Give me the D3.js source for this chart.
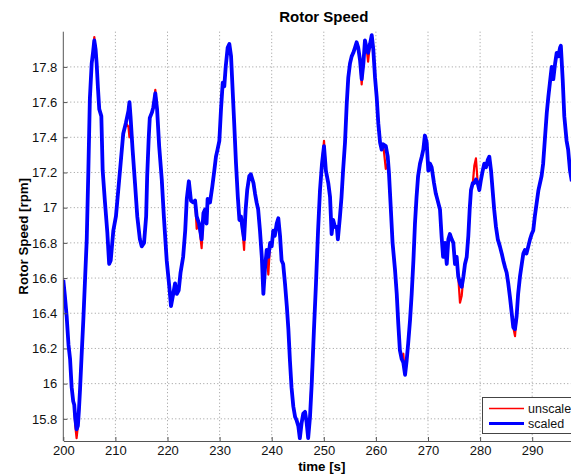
<!DOCTYPE html>
<html>
<head>
<meta charset="utf-8">
<script src="https://cdn.jsdelivr.net/npm/d3@7"></script>
<style>
  html, body { margin: 0; padding: 0; background: #fff; }
  svg { display: block; font-family: "Liberation Sans", Arial, sans-serif; }
</style>
</head>
<body>
<svg id="chart" width="571" height="474"></svg>
<script>
// ---- data ----
const chartTitle = "Rotor Speed";
const xLabel = "time [s]";
const yLabel = "Rotor Speed [rpm]";
const xTicks = [200, 210, 220, 230, 240, 250, 260, 270, 280, 290];
const yTicks = [15.8, 16, 16.2, 16.4, 16.6, 16.8, 17, 17.2, 17.4, 17.6, 17.8];
const seriesNames = ["unscale", "scaled"];

// scaled series: [time s, rotor speed rpm]
const scaled = [
[200.0,16.59],[200.3,16.50],[200.65,16.38],[201.0,16.22],[201.3,16.14],[201.6,15.98],[201.9,15.90],[202.1,15.88],
[202.3,15.80],[202.55,15.74],[202.8,15.76],[203.0,15.85],[203.2,15.96],[203.5,16.15],[203.84,16.36],[204.17,16.59],
[204.5,16.82],[204.8,17.20],[205.1,17.62],[205.45,17.82],[205.7,17.88],[205.95,17.95],[206.2,17.90],[206.4,17.82],
[206.65,17.68],[206.9,17.56],[207.3,17.52],[207.56,17.21],[208.0,17.03],[208.45,16.86],[208.8,16.68],[209.1,16.70],
[209.6,16.87],[210.1,16.95],[210.55,17.10],[211.0,17.25],[211.5,17.42],[212.0,17.48],[212.5,17.55],[212.7,17.60],
[212.9,17.52],[213.3,17.33],[213.76,17.14],[214.2,16.95],[214.7,16.82],[215.05,16.78],[215.5,16.80],[215.9,16.95],
[216.1,17.18],[216.4,17.40],[216.6,17.51],[217.0,17.54],[217.27,17.57],[217.66,17.65],[218.0,17.56],[218.4,17.35],
[218.9,17.16],[219.3,16.95],[219.85,16.70],[220.35,16.55],[220.67,16.44],[221.1,16.51],[221.45,16.57],[221.8,16.51],
[222.15,16.53],[222.5,16.63],[223.0,16.72],[223.4,16.87],[223.7,17.05],[224.1,17.15],[224.5,17.04],[224.95,17.03],
[225.3,17.04],[225.6,16.95],[226.05,16.91],[226.55,16.82],[226.9,16.97],[227.2,16.99],[227.5,16.91],[227.7,17.05],
[228.16,17.03],[228.6,17.12],[228.98,17.21],[229.3,17.29],[229.6,17.33],[229.95,17.38],[230.27,17.56],[230.6,17.71],
[230.9,17.69],[231.17,17.80],[231.55,17.91],[231.87,17.93],[232.2,17.86],[232.5,17.67],[232.8,17.48],[233.15,17.25],
[233.5,17.06],[233.8,16.93],[234.1,16.95],[234.36,16.89],[234.7,16.82],[235.0,16.99],[235.3,17.10],[235.7,17.18],
[236.0,17.19],[236.5,17.14],[236.8,17.08],[237.1,17.03],[237.4,16.99],[237.75,16.87],[238.1,16.72],[238.4,16.51],
[238.7,16.65],[239.04,16.76],[239.35,16.72],[239.7,16.80],[240.0,16.78],[240.3,16.87],[240.6,16.84],[240.96,16.91],
[241.27,16.94],[241.6,16.84],[241.9,16.70],[242.2,16.68],[242.55,16.57],[242.9,16.44],[243.2,16.31],[243.5,16.13],
[243.8,15.98],[244.15,15.87],[244.5,15.81],[244.8,15.79],[245.1,15.76],[245.4,15.69],[245.76,15.78],[246.06,15.83],
[246.4,15.84],[246.7,15.78],[247.0,15.69],[247.35,15.81],[247.7,16.01],[248.1,16.30],[248.5,16.57],[248.9,16.87],
[249.27,17.10],[249.65,17.25],[250.04,17.35],[250.4,17.21],[250.86,17.14],[251.2,17.06],[251.5,16.85],[251.8,16.93],
[252.15,16.89],[252.5,16.89],[252.7,16.82],[253.1,16.95],[253.4,17.06],[253.7,17.21],[254.07,17.37],[254.4,17.59],
[254.7,17.74],[255.03,17.82],[255.35,17.86],[255.66,17.88],[255.99,17.91],[256.3,17.94],[256.6,17.91],[256.95,17.84],
[257.27,17.73],[257.6,17.82],[257.9,17.95],[258.2,17.91],[258.5,17.88],[258.87,17.93],[259.2,17.98],[259.5,17.90],
[259.83,17.74],[260.15,17.63],[260.46,17.48],[260.8,17.37],[261.1,17.33],[261.4,17.36],[261.9,17.35],[262.27,17.29],
[262.5,17.20],[262.8,17.03],[263.2,16.80],[263.66,16.65],[264.0,16.51],[264.3,16.34],[264.6,16.19],[264.95,16.14],
[265.26,16.12],[265.6,16.05],[265.9,16.13],[266.2,16.23],[266.55,16.36],[266.87,16.51],[267.2,16.70],[267.5,16.91],
[267.8,17.06],[268.1,17.18],[268.46,17.25],[268.8,17.29],[269.1,17.33],[269.4,17.41],[269.75,17.37],[270.06,17.21],
[270.4,17.25],[270.7,17.23],[271.15,17.14],[271.5,17.08],[271.86,17.04],[272.3,16.99],[272.6,16.84],[272.9,16.72],
[273.26,16.80],[273.6,16.68],[273.9,16.82],[274.2,16.85],[274.55,16.82],[274.86,16.80],[275.18,16.68],[275.5,16.72],
[275.8,16.61],[276.14,16.57],[276.47,16.55],[276.8,16.61],[277.1,16.68],[277.43,16.72],[277.74,16.84],[278.0,16.99],
[278.25,17.10],[278.6,17.14],[278.9,17.14],[279.2,17.16],[279.54,17.14],[279.85,17.10],[280.17,17.16],[280.5,17.21],
[280.8,17.25],[281.13,17.23],[281.46,17.27],[281.77,17.29],[282.1,17.21],[282.4,17.10],[282.7,16.99],[283.05,16.89],
[283.4,16.82],[283.8,16.78],[284.15,16.74],[284.45,16.70],[284.8,16.66],[285.1,16.63],[285.4,16.57],[285.74,16.49],
[286.07,16.40],[286.37,16.32],[286.7,16.31],[287.0,16.38],[287.3,16.51],[287.66,16.61],[288.0,16.68],[288.3,16.74],
[288.6,16.76],[288.9,16.74],[289.25,16.78],[289.58,16.82],[289.9,16.85],[290.2,16.87],[290.5,16.95],[290.87,17.03],
[291.2,17.10],[291.5,17.14],[291.8,17.18],[292.1,17.25],[292.46,17.40],[292.8,17.54],[293.1,17.63],[293.4,17.71],
[293.74,17.80],[294.05,17.73],[294.4,17.82],[294.7,17.88],[295.0,17.86],[295.35,17.91],[295.5,17.92],[295.85,17.73],
[296.16,17.52],[296.6,17.38],[296.9,17.33],[297.26,17.21],[297.6,17.15]
];

// unscaled series readings where it visibly departs from the scaled one: [time s, rpm]
const unscaledReadings = [
[202.3,15.76],[202.55,15.69],[205.95,17.97],[212.5,17.46],[212.7,17.40],[212.9,17.47],[217.66,17.67],
[220.67,16.46],[225.6,16.88],[226.55,16.77],[234.7,16.76],[239.35,16.62],[247.7,16.06],[250.04,17.38],
[257.27,17.70],[258.5,17.83],[261.9,17.22],[262.27,17.25],[265.26,16.17],[276.14,16.46],[276.47,16.50],
[278.9,17.24],[279.2,17.28],[286.7,16.27],[293.74,17.78]
];

// ---- layout ----
const svg = d3.select("#chart");
const plotLeft = 63.3, plotTop = 31.7, plotBottom = 441, plotW = 521;
const x = d3.scaleLinear().domain([200, 300]).range([plotLeft, plotLeft + plotW]);
const y = d3.scaleLinear().domain([15.674, 18.0]).range([plotBottom, plotTop]);

const overrideMap = new Map(unscaledReadings.map(d => [d[0], d[1]]));
const unscaled = scaled.map(d => [d[0], overrideMap.has(d[0]) ? overrideMap.get(d[0]) : d[1]]);

svg.append("defs").append("clipPath").attr("id", "clip")
  .append("rect").attr("x", plotLeft).attr("y", plotTop).attr("width", plotW).attr("height", plotBottom - plotTop);

// grid
const grid = svg.append("g");
grid.selectAll("line.vg").data(xTicks.slice(1)).join("line")
  .attr("x1", d => x(d)).attr("x2", d => x(d)).attr("y1", plotTop).attr("y2", plotBottom)
  .attr("stroke", "#999").attr("stroke-width", 1).attr("stroke-dasharray", "1,2.5");
grid.selectAll("line.hg").data(yTicks).join("line")
  .attr("x1", plotLeft).attr("x2", plotLeft + plotW).attr("y1", d => y(d)).attr("y2", d => y(d))
  .attr("stroke", "#999").attr("stroke-width", 1).attr("stroke-dasharray", "1,2.5");

// lines
const line = d3.line().x(d => x(d[0])).y(d => y(d[1]));
const plot = svg.append("g").attr("clip-path", "url(#clip)");
plot.append("path").datum(unscaled).attr("d", line)
  .attr("fill", "none").attr("stroke", "#ff0000").attr("stroke-width", 2.2).attr("stroke-linejoin", "round");
plot.append("path").datum(scaled).attr("d", line)
  .attr("fill", "none").attr("stroke", "#0000ff").attr("stroke-width", 3.8).attr("stroke-linejoin", "round");

// axes
const fmt = d => d3.format("")(+d.toFixed(1));
const xAxis = d3.axisBottom(x).tickValues(xTicks).tickSizeInner(-4).tickSizeOuter(0).tickPadding(5).tickFormat(fmt);
const yAxis = d3.axisLeft(y).tickValues(yTicks).tickSizeInner(-4).tickSizeOuter(0).tickPadding(6).tickFormat(fmt);

const gx = svg.append("g").attr("transform", `translate(0,${plotBottom})`).call(xAxis);
const gy = svg.append("g").attr("transform", `translate(${plotLeft},0)`).call(yAxis);
[gx, gy].forEach(g => {
  g.select(".domain").attr("stroke", "#555").attr("stroke-width", 1);
  g.selectAll(".tick line").attr("stroke", "#555");
  g.selectAll(".tick text").attr("fill", "#111").attr("font-size", 13)
    .attr("font-family", "Liberation Sans, Arial, sans-serif");
});
gy.select(".domain").attr("d", `M0,${plotBottom}V${plotTop}`);

// title and labels
svg.append("text").attr("x", x(250)).attr("y", 21.5).attr("text-anchor", "middle")
  .attr("font-size", 15).attr("font-weight", "bold").attr("fill", "#000").text(chartTitle);
svg.append("text").attr("x", x(250) - 2).attr("y", 470.5).attr("text-anchor", "middle")
  .attr("font-size", 13.3).attr("font-weight", "bold").attr("fill", "#000").text(xLabel);
svg.append("text").attr("transform", `translate(28,${(plotTop + plotBottom) / 2}) rotate(-90)`)
  .attr("text-anchor", "middle").attr("font-size", 13.3).attr("font-weight", "bold").attr("fill", "#000").text(yLabel);

// legend
const lg = svg.append("g");
lg.append("rect").attr("x", 482.5).attr("y", 397.5).attr("width", 100).attr("height", 36)
  .attr("fill", "#fff").attr("stroke", "#444").attr("stroke-width", 1);
const legendColors = ["#ff0000", "#0000ff"];
const legendWidths = [1.5, 3.2];
seriesNames.forEach((name, i) => {
  const yy = 408.5 + i * 15;
  lg.append("line").attr("x1", 489).attr("x2", 524).attr("y1", yy).attr("y2", yy)
    .attr("stroke", legendColors[i]).attr("stroke-width", legendWidths[i]);
  lg.append("text").attr("x", 528).attr("y", yy + 4.5).attr("font-size", 12.5).attr("fill", "#111").text(name);
});
</script>
</body>
</html>
